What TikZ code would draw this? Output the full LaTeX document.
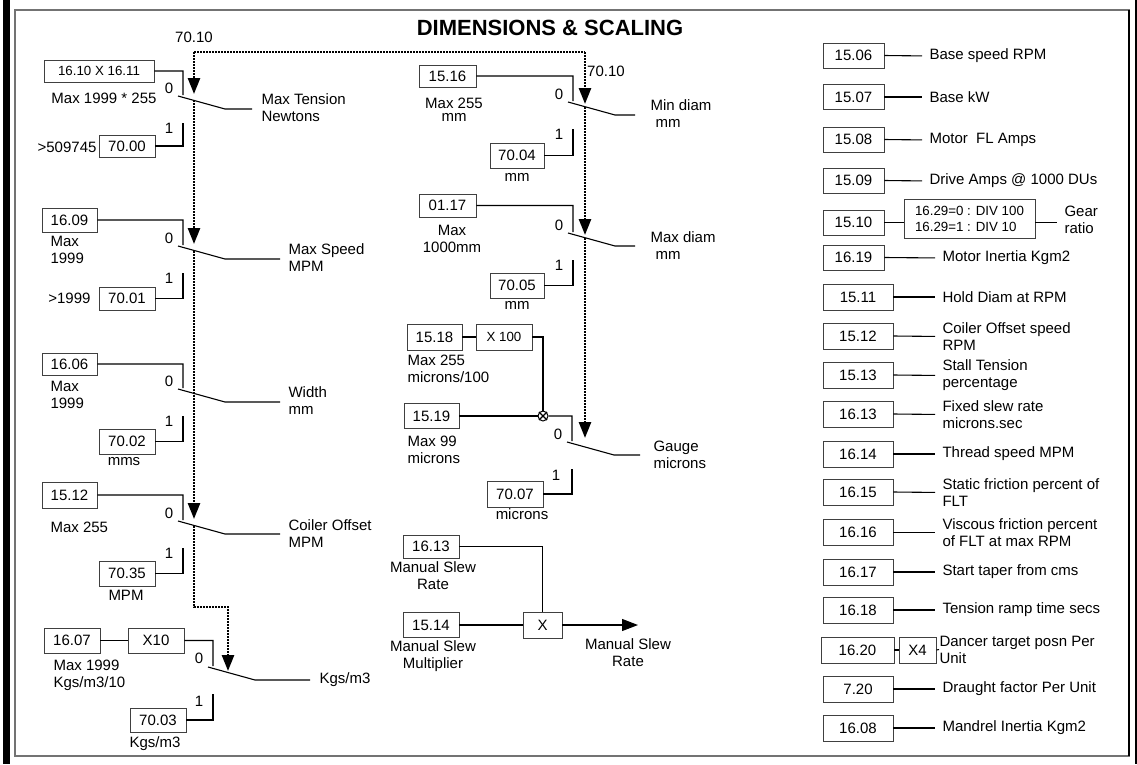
\documentclass[tikz,border=0pt]{standalone}
\usepackage{fontspec}
\setmainfont{Liberation Sans}
\usetikzlibrary{arrows.meta, calc}
\tikzset{
    box/.style={
        rectangle, draw=black!75, line width=0.9pt,
        minimum width=56pt, minimum height=24pt, inner sep=1pt
    },
    lbox/.style={
        box, minimum width=61pt, minimum height=25pt
    },
    rbox/.style={
        box, minimum width=70pt, minimum height=26pt
    },
    small/.style={
        font=\fontsize{13.3}{16}\selectfont
    },
    lbl/.style={
        anchor=west, align=left, inner sep=0pt
    },
    note/.style={
        align=center, inner sep=0pt
    },
    tie/.style={
        shorten >=7pt
    },
    dots/.style={
        line width=2.6pt, dash pattern=on 2pt off 1pt
    },
    mm/.style={
        -{Triangle[length=16pt, width=12pt]}
    }
}
\begin{document}
\begin{tikzpicture}[x=1pt, y=-1pt, font=\fontsize{15}{17}\selectfont, line width=1.1pt]
        \useasboundingbox (0,0) rectangle (1137,764);
        % \draw[help lines, step=50] (0,0) grid (1137,764);

        % Frame and title
        \fill (3,0) rectangle (10,764);
        \draw[black!55, line width=1.6pt] (15,10) rectangle (1129,756);
        \draw[line width=1.4pt] (1129,10) -- (1129,756);
        \draw (1136,0) -- (1136,764);
        \node[font=\bfseries\fontsize{22}{24}\selectfont] (title) at (550,28) {DIMENSIONS \& SCALING};

        % 70.10 select line
        \node (srcl) at (194,37) {70.10};
        \node (srcr) at (606,71) {70.10};
        \coordinate (dtop) at (194,52);
        \coordinate (dmid) at (585,52);

        % Max tension

        \node[box, small, minimum width=110pt, minimum height=22pt] (ten0) at (99,71) {16.10 X 16.11};
        \node[note] (tennote) at (104,98) {Max 1999 * 255};
        \node[box, minimum height=22pt] (ten1) at (127,146) {70.00};
        \node[anchor=east, inner sep=0pt] (tenlim) at (97,147) {>509745};
        \coordinate (tenP) at (183,95);
        \coordinate (tenout) at (252,109);
        \node (tenz) at ($(tenP)+(-14,-7)$) {0};
        \node (tenone) at ($(tenP)+(-14,33)$) {1};
        \node[lbl] (tenlbl) at (261,108) {Max Tension\\Newtons};

        \draw (ten0.east) -| (tenP) ++(-5,1) -- ++(47,13) -- (tenout);
        \draw (tenP) ++(0,28) |- (ten1.east);

        % Max speed

        \node[box, minimum width=55pt] (spd0) at (69.5,220) {16.09};
        \node[lbl] (spdnote) at (50,249.5) {Max\\1999};
        \node[box, minimum height=23pt] (spd1) at (127,298.5) {70.01};
        \node[anchor=east, inner sep=0pt] (spdlim) at (91,298) {>1999};
        \coordinate (spdP) at (183,245);
        \coordinate (spdout) at (280,259);
        \node (spdz) at ($(spdP)+(-14,-7)$) {0};
        \node (spdone) at ($(spdP)+(-14,33)$) {1};
        \node[lbl] (spdlbl) at (288,258) {Max Speed\\MPM};

        \draw (spd0.east) -| (spdP) ++(-5,1) -- ++(47,13) -- (spdout);
        \draw (spdP) ++(0,28) |- (spd1.east);

        % Width

        \node[box, minimum width=55pt, minimum height=22pt] (wid0) at (69.5,364) {16.06};
        \node[lbl] (widnote) at (50,395) {Max\\1999};
        \node[box, minimum height=25pt] (wid1) at (127,441.5) {70.02};
        \node (widunit) at (124,462) {mms};
        \coordinate (widP) at (183,388);
        \coordinate (widout) at (280,402);
        \node (widz) at ($(widP)+(-14,-7)$) {0};
        \node (widone) at ($(widP)+(-14,33)$) {1};
        \node[lbl] (widlbl) at (288,401) {Width\\mm};

        \draw (wid0.east) -| (widP) ++(-5,1) -- ++(47,13) -- (widout);
        \draw (widP) ++(0,28) |- (wid1.east);

        % Coiler offset

        \node[box, minimum width=55pt, minimum height=26pt] (coil0) at (69.5,495) {15.12};
        \node[lbl] (coilnote) at (50,527) {Max 255};
        \node[box, minimum height=25pt] (coil1) at (127,573.5) {70.35};
        \node (coilunit) at (126,595) {MPM};
        \coordinate (coilP) at (183,520);
        \coordinate (coilout) at (280,534);
        \node (coilz) at ($(coilP)+(-14,-7)$) {0};
        \node (coilone) at ($(coilP)+(-14,33)$) {1};
        \node[lbl] (coillbl) at (288,534) {Coiler Offset\\MPM};

        \draw (coil0.east) -| (coilP) ++(-5,1) -- ++(47,13) -- (coilout);
        \draw (coilP) ++(0,28) |- (coil1.east);

        % Density

        \node[box, minimum height=25pt] (kgs0) at (72,640.5) {16.07};
        \node[box, minimum height=25pt] (kgsx) at (156,640.5) {X10};
        \node[lbl] (kgsnote) at (53,675.5) {Max 1999\\Kgs/m3/10};
        \node[box] (kgs1) at (158,720) {70.03};
        \node (kgsunit) at (155,744) {Kgs/m3};
        \coordinate (kgsP) at (213,666);
        \coordinate (kgsout) at (310,680);
        \node (kgsz) at ($(kgsP)+(-14,-8)$) {0};
        \node (kgsone) at ($(kgsP)+(-14,35)$) {1};
        \node[lbl] (kgslbl) at (319,680) {Kgs/m3};

        \draw (kgs0) -- (kgsx);
        \draw (kgsx.east) -| (kgsP) ++(-5,1) -- ++(47,13) -- (kgsout);
        \draw (kgsP) ++(0,28) |- (kgs1.east);

        % Min diameter

        \node[box, minimum width=57pt, minimum height=22pt] (mind0) at (447.5,76) {15.16};
        \node[note, font=\fontsize{15}{13}\selectfont] (mindnote) at (454,109.5) {Max 255\\mm};
        \node[box, minimum width=54pt, minimum height=25pt] (mind1) at (517,155.5) {70.04};
        \node (mindunit) at (517,177) {mm};
        \coordinate (mindP) at (573,101);
        \coordinate (mindout) at (635,115);
        \node (mindz) at ($(mindP)+(-14,-7)$) {0};
        \node (mindone) at ($(mindP)+(-14,33)$) {1};
        \node[lbl] (mindlbl) at (650,114) {Min diam\\\hspace*{5pt}mm};

        \draw (mind0.east) -| (mindP) ++(-5,1) -- ++(47,13) -- (mindout);
        \draw (mindP) ++(0,28) |- (mind1.east);

        % Max diameter

        \node[box, minimum width=57pt, minimum height=23pt] (maxd0) at (447.5,205.5) {01.17};
        \node[note] (maxdnote) at (452,238.5) {Max\\1000mm};
        \node[box, minimum width=54pt, minimum height=25pt] (maxd1) at (517,285.5) {70.05};
        \node (maxdunit) at (517,305) {mm};
        \coordinate (maxdP) at (573,232);
        \coordinate (maxdout) at (635,246);
        \node (maxdz) at ($(maxdP)+(-14,-7)$) {0};
        \node (maxdone) at ($(maxdP)+(-14,33)$) {1};
        \node[lbl] (maxdlbl) at (650,245.5) {Max diam\\\hspace*{5pt}mm};

        \draw (maxd0.east) -| (maxdP) ++(-5,1) -- ++(47,13) -- (maxdout);
        \draw (maxdP) ++(0,28) |- (maxd1.east);

        % Gauge

        \node[box, minimum width=55pt, minimum height=26pt] (gau0) at (434.5,337) {15.18};
        \node[box, small, minimum height=26pt] (gaux) at (504,337) {X 100};
        \node[lbl] (gaunote) at (407,368.5) {Max 255\\microns/100};
        \node[box, minimum width=55pt, minimum height=25pt] (gau1) at (431.5,416) {15.19};
        \node[lbl] (gaulim) at (407,449.5) {Max 99\\microns};
        \node[circle, draw, minimum size=10pt, inner sep=0pt, line width=1pt] (gmix) at (543,416) {};
        \node[box, minimum height=26pt] (gau2) at (515,494) {70.07};
        \node (gauunit) at (522,514) {microns};
        \coordinate (gauP) at (572,441);
        \coordinate (gauout) at (640,455);
        \node (gauz) at ($(gauP)+(-14,-7)$) {0};
        \node (gauone) at ($(gauP)+(-16,34)$) {1};
        \node[lbl] (gaulbl) at (653,455) {Gauge\\microns};

        \draw (gmix.north west) -- (gmix.south east) (gmix.north east) -- (gmix.south west);
        \draw (gau0) -- (gaux);
        \draw (gaux.east) -| (gmix.north);
        \draw (gau1.east) -- (gmix.west);
        \draw (gmix.east) -| (gauP) ++(-5,1) -- ++(47,13) -- (gauout);
        \draw (gauP) ++(0,28) |- (gau2.east);

        % Dotted select line with arrows

        \coordinate (tentip) at (194,94);
        \coordinate (tencut) at (194,100);
        \coordinate (spdtip) at (194,244);
        \coordinate (spdcut) at (194,251);
        \coordinate (coiltip) at (194,519);
        \coordinate (coilcut) at (194,526);
        \coordinate (kgsbend) at (228,607);
        \coordinate (kgstip) at (228,671);
        \coordinate (mindtip) at (585,104);
        \coordinate (mindcut) at (585,107);
        \coordinate (maxdtip) at (585,235);
        \coordinate (maxdcut) at (585,238);
        \coordinate (gautip) at (585,438);

        \draw[dots] (dtop) -- (dmid);
        \draw[dots, mm] (dtop) -- (tentip);
        \draw[dots, mm] (tencut) -- (spdtip);
        \draw[dots, mm] (spdcut) -- (coiltip);
        \draw[dots, mm] (coilcut) |- (kgsbend) -- (kgstip);
        \draw[dots, mm] (dmid) -- (mindtip);
        \draw[dots, mm] (mindcut) -- (maxdtip);
        \draw[dots, mm] (maxdcut) -- (gautip);

        % Manual slew

        \node[box, minimum height=23pt] (slew0) at (431,546.5) {16.13};
        \node[note] (slew0note) at (433,576) {Manual Slew\\Rate};
        \node[box, minimum height=25pt] (slew1) at (431,625) {15.14};
        \node[note] (slew1note) at (433,656) {Manual Slew\\Multiplier};
        \node[box, minimum width=39pt, minimum height=26pt] (slewx) at (542.5,625) {X};
        \coordinate (slewout) at (638,625);
        \node[note] (slewlbl) at (628,653) {Manual Slew\\Rate};

        \draw (slew0.east) -| (slewx.north);
        \draw (slew1) -- (slewx);
        \draw[mm] (slewx) -- (slewout);

        % Fixed parameters

        \node[lbox] (p1506) at (853.5,55.5)  {15.06};
        \node[lbox] (p1507) at (853.5,97)    {15.07};
        \node[lbox] (p1508) at (853.5,139.5) {15.08};
        \node[lbox] (p1509) at (853.5,180.5) {15.09};
        \node[lbox] (p1510) at (853.5,222.5) {15.10};
        \node[lbox] (p1619) at (853.5,257.5) {16.19};
        \node[rbox] (p1511) at (858,297)     {15.11};
        \node[rbox] (p1512) at (858,336)     {15.12};
        \node[rbox] (p1513) at (858,375)     {15.13};
        \node[rbox] (p1613) at (858,414)     {16.13};
        \node[rbox] (p1614) at (858,454)     {16.14};
        \node[rbox] (p1615) at (858,492)     {16.15};
        \node[rbox] (p1616) at (858,532.5)   {16.16};
        \node[rbox] (p1617) at (858,572)     {16.17};
        \node[rbox] (p1618) at (858,610)     {16.18};
        \node[rbox, minimum width=73pt] (p1620) at (857.5,650) {16.20};
        \node[box, minimum width=37pt, minimum height=26pt] (x4) at (917.5,650) {X4};
        \node[rbox] (p720)  at (858,689)     {7.20};
        \node[rbox] (p1608) at (858,728)     {16.08};

        \node[box, small, align=left, minimum width=131pt, minimum height=39pt] (gear) at (969.5,218.5) {16.29=0 : DIV 100\\16.29=1 : DIV 10};

        \node[lbl] (t1506) at (929,56)    {Base speed RPM};
        \node[lbl] (t1507) at (929,97)    {Base kW};
        \node[lbl] (t1508) at (929,140)   {Motor\ \ FL Amps};
        \node[lbl] (t1509) at (929,181)   {Drive Amps @ 1000 DUs};
        \node[lbl] (t1510) at (1064,219.5) {Gear\\ratio};
        \node[lbl] (t1619) at (942,258)   {Motor Inertia Kgm2};
        \node[lbl] (t1511) at (942,297)   {Hold Diam at RPM};
        \node[lbl] (t1512) at (942,336.5) {Coiler Offset speed\\RPM};
        \node[lbl] (t1513) at (942,375.5) {Stall Tension\\percentage};
        \node[lbl] (t1613) at (942,414.5) {Fixed slew rate\\microns.sec};
        \node[lbl] (t1614) at (942,454)   {Thread speed MPM};
        \node[lbl] (t1615) at (942,492.5) {Static friction percent of\\FLT};
        \node[lbl] (t1616) at (942,532.5) {Viscous friction percent\\of FLT at max RPM};
        \node[lbl] (t1617) at (942,572)   {Start taper from cms};
        \node[lbl] (t1618) at (942,610)   {Tension ramp time secs};
        \node[lbl] (t1620) at (939,649.5) {Dancer target posn Per\\Unit};
        \node[lbl] (t720)  at (942,689)   {Draught factor Per Unit};
        \node[lbl] (t1608) at (942,728)   {Mandrel Inertia Kgm2};

        \path (p1506.east) edge[tie] (t1506.west)
                (p1507.east) edge[tie] (t1507.west)
                (p1508.east) edge[tie] (t1508.west)
                (p1509.east) edge[tie] (t1509.west)
                (p1619.east) edge[tie] (t1619.west)
                (p1511.east) edge[tie] (t1511.west)
                (p1512.east) edge[tie] (t1512.west)
                (p1513.east) edge[tie] (t1513.west)
                (p1613.east) edge[tie] (t1613.west)
                (p1614.east) edge[tie] (t1614.west)
                (p1615.east) edge[tie] (t1615.west)
                (p1616.east) edge[tie] (t1616.west)
                (p1617.east) edge[tie] (t1617.west)
                (p1618.east) edge[tie] (t1618.west)
                (p720.east)  edge[tie] (t720.west)
                (p1608.east) edge[tie] (t1608.west)
                (p1620) edge (x4)
                (x4.east) edge (t1620.west);

        \draw (p1510.east) -- (p1510.east -| gear.west);
        \draw[tie] (gear.east |- p1510.east) -- (t1510.west |- p1510.east);
    \end{tikzpicture}
\end{document}
